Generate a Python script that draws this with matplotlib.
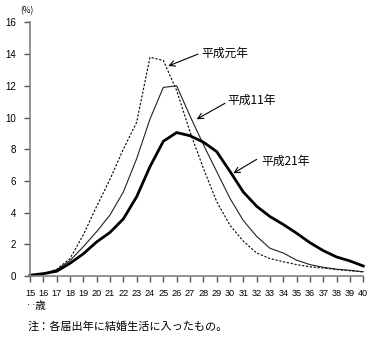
import matplotlib
matplotlib.use("Agg")
import matplotlib.pyplot as plt

plt.rcParams['font.family'] = ['Noto Sans CJK JP', 'DejaVu Sans']

# --------------------------
# データ（妻の年齢別・構成割合 %）
# --------------------------
ages = list(range(15, 41))
age_labels = [str(a) for a in ages]

h01 = [0.03, 0.15, 0.42, 1.1, 2.6, 4.4, 6.1, 8.0, 9.7, 13.8, 13.6, 11.7, 9.1,
       6.8, 4.7, 3.2, 2.2, 1.45, 1.1, 0.9, 0.72, 0.58, 0.5, 0.41, 0.33, 0.26]
h11 = [0.03, 0.14, 0.4, 0.97, 1.85, 2.8, 3.85, 5.3, 7.4, 9.9, 11.9, 12.0, 10.1,
       8.3, 6.6, 4.9, 3.5, 2.5, 1.75, 1.45, 1.0, 0.72, 0.55, 0.43, 0.36, 0.27]
h21 = [0.05, 0.15, 0.3, 0.8, 1.4, 2.15, 2.75, 3.6, 5.0, 6.9, 8.5, 9.05, 8.85,
       8.45, 7.85, 6.6, 5.3, 4.4, 3.75, 3.25, 2.7, 2.1, 1.6, 1.2, 0.95, 0.63]

series_names = ["平成元年", "平成11年", "平成21年"]

# --------------------------
# 描画
# --------------------------
fig = plt.figure(figsize=(3.74, 3.38), dpi=100)
ax = fig.add_axes([0.0802, 0.1834, 0.8912, 0.7503])

ax.plot(ages, h01, color="black", lw=0.8, ls=(0, (2, 1.5)), clip_on=False)
ax.plot(ages, h11, color="#222222", lw=0.8, clip_on=False)
ax.plot(ages, h21, color="black", lw=2.0, clip_on=False)

ax.set_xlim(15, 40)
ax.set_ylim(0, 16)
ax.set_yticks(range(0, 17, 2))
ax.set_xticks(ages)
ax.set_xticklabels(age_labels, fontsize=6.6, family="Liberation Sans")
ax.tick_params(axis="y", labelsize=7, length=4, width=1, color="#555555", pad=6)
ax.tick_params(axis="x", length=4, width=1, color="#555555", pad=5)
for lab in ax.get_yticklabels():
    lab.set_family("Liberation Sans")

for side in ["top", "right"]:
    ax.spines[side].set_visible(False)
for side in ["left", "bottom"]:
    ax.spines[side].set_color("#808080")
    ax.spines[side].set_linewidth(1.2)

# 系列名と矢印
label_pos = [(27.83, 14.05), (29.83, 11.1), (32.38, 7.21)]
arrow_from = [(27.6, 14.0), (29.63, 10.9), (32.0, 7.36)]
arrow_to = [(25.37, 13.25), (27.5, 9.89), (30.25, 6.48)]
for name, pos, a0, a1 in zip(series_names, label_pos, arrow_from, arrow_to):
    ax.text(pos[0], pos[1], name, fontsize=8.5, va="center", ha="left")
    ax.annotate("", xy=a1, xytext=a0,
                arrowprops=dict(arrowstyle="->", lw=0.8, color="black",
                                shrinkA=0, shrinkB=0))

fig.text(20 / 374, 1 - 11 / 338, "(%)", fontsize=6, va="center", ha="left")
fig.text(25 / 374, 1 - 306 / 338, "‥歳", fontsize=7.5, va="center", ha="left")
fig.text(28 / 374, 1 - 327 / 338, "注：各届出年に結婚生活に入ったもの。",
         fontsize=8, va="center", ha="left")

fig.savefig("out.png", dpi=100)
